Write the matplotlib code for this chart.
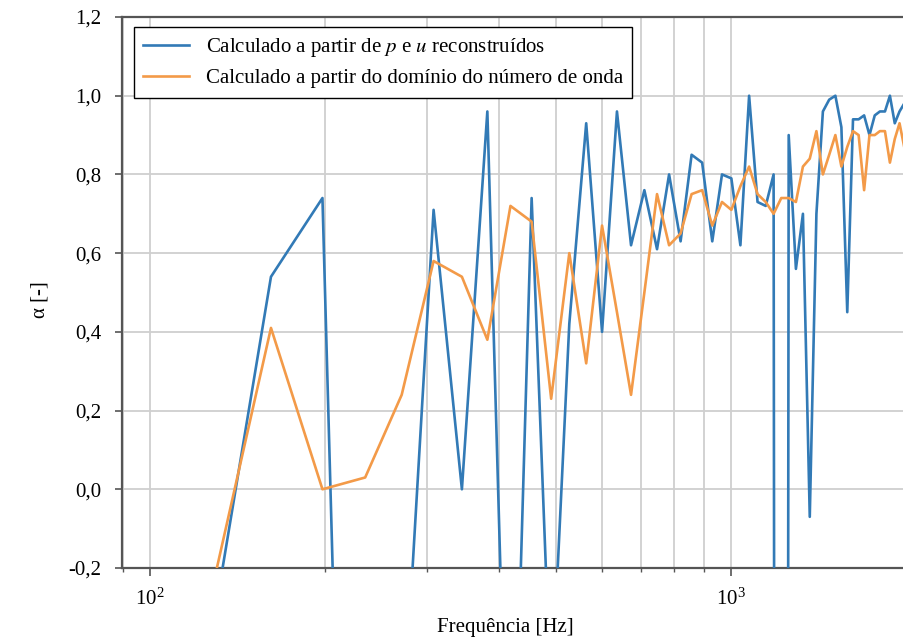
import matplotlib
matplotlib.use("Agg")
import matplotlib.pyplot as plt
from matplotlib.ticker import FuncFormatter, NullFormatter, LogLocator

plt.rcParams['font.family'] = ['Liberation Serif', 'DejaVu Serif']
plt.rcParams['mathtext.fontset'] = 'stix'

# Frequencies [Hz]
freqs = [125.0, 161.6, 198.2, 234.8, 271.4, 308.0, 344.6, 381.2, 417.8, 454.4,
         491.0, 527.6, 564.2, 600.8, 637.4, 674.0, 710.6, 747.2, 783.8, 820.4,
         857.0, 893.6, 930.2, 966.8, 1003.4, 1040.0, 1076.6, 1113.2, 1149.8, 1186.4,
         1223.0, 1259.6, 1296.2, 1332.8, 1369.4, 1406.0, 1442.6, 1479.2, 1515.8, 1552.4,
         1589.0, 1625.6, 1662.2, 1698.8, 1735.4, 1772.0, 1808.6, 1845.2, 1881.8, 1918.4,
         1955.0, 1991.6]

# alpha computed from reconstructed p and u
alpha_pu = [-0.45, 0.54, 0.74, -3.2, -0.67, 0.71, 0.00, 0.96, -1.1, 0.74,
            -0.55, 0.42, 0.93, 0.40, 0.96, 0.62, 0.76, 0.61, 0.80, 0.63,
            0.85, 0.83, 0.63, 0.80, 0.79, 0.62, 1.00, 0.73, 0.72, 0.80,
            -15.0, 0.90, 0.56, 0.70, -0.07, 0.70, 0.96, 0.99, 1.00, 0.92,
            0.45, 0.94, 0.94, 0.95, 0.90, 0.95, 0.96, 0.96, 1.00, 0.93,
            0.96, 0.98]

# alpha computed from wavenumber domain
alpha_k = [-0.32, 0.41, 0.00, 0.03, 0.24, 0.58, 0.54, 0.38, 0.72, 0.68,
           0.23, 0.60, 0.32, 0.67, 0.45, 0.24, 0.50, 0.75, 0.62, 0.65,
           0.75, 0.76, 0.67, 0.73, 0.71, 0.77, 0.82, 0.75, 0.73, 0.70,
           0.74, 0.74, 0.73, 0.82, 0.84, 0.91, 0.80, 0.85, 0.90, 0.82,
           0.87, 0.91, 0.90, 0.76, 0.90, 0.90, 0.91, 0.91, 0.83, 0.89,
           0.93, 0.87]

labels = ["Calculado a partir de $p$ e $u$ reconstruídos",
          "Calculado a partir do domínio do número de onda"]
yticks = [-0.2, 0.0, 0.2, 0.4, 0.6, 0.8, 1.0, 1.2]

FS = 15
W, H = 904, 641
fig = plt.figure(figsize=(W / 100, H / 100), dpi=100)
ax = fig.add_axes([122 / W, (H - 568) / H, (904 - 122) / W, (568 - 17) / H])

ax.plot(freqs, alpha_pu, color='#327ab6', lw=1.9, label=labels[0], zorder=3)
ax.plot(freqs, alpha_k, color='#f39a48', lw=1.9, label=labels[1], zorder=3)

ax.set_xscale('log')
ax.set_xlim(89.5, 1990)
ax.set_ylim(-0.2, 1.2)
ax.set_yticks(yticks)
ax.yaxis.set_major_formatter(FuncFormatter(lambda v, p: f"{v:.1f}".replace('.', ',')))
ax.xaxis.set_minor_locator(LogLocator(base=10, subs=range(2, 10)))
ax.xaxis.set_minor_formatter(NullFormatter())

ax.grid(True, which='major', axis='both', color='#cfcfcf', lw=1.3, zorder=0)
ax.grid(True, which='minor', axis='x', color='#cfcfcf', lw=1.3, zorder=0)
ax.set_axisbelow(True)

for s in ['left', 'bottom', 'top']:
    ax.spines[s].set_color('#555555')
    ax.spines[s].set_linewidth(1.6)
ax.spines['right'].set_visible(False)

ax.tick_params(axis='y', which='major', length=5, width=1.2, color='#555555',
               labelsize=FS, pad=10)
ax.tick_params(axis='x', which='major', length=6, width=1.2, color='#555555',
               labelsize=FS, pad=9)
ax.tick_params(axis='x', which='minor', length=3, width=1.0, color='#555555')

ax.set_xlabel("Frequência [Hz]", fontsize=FS)
ax.set_ylabel("α [-]", fontsize=FS)
ax.xaxis.set_label_coords((505 - 122) / 782, -(618 - 568) / 551)
ax.yaxis.set_label_coords((50 - 122) / 782, (568 - 300) / 551)

leg = ax.legend(loc='upper left', bbox_to_anchor=((134 - 122) / 782, (568 - 27) / 551),
                borderaxespad=0, fancybox=False, framealpha=1, edgecolor='black',
                fontsize=FS, handlelength=2.2, handletextpad=0.8,
                labelspacing=0.45, borderpad=0.45)
leg.get_frame().set_linewidth(1.0)

fig.savefig("out.png", dpi=100)
